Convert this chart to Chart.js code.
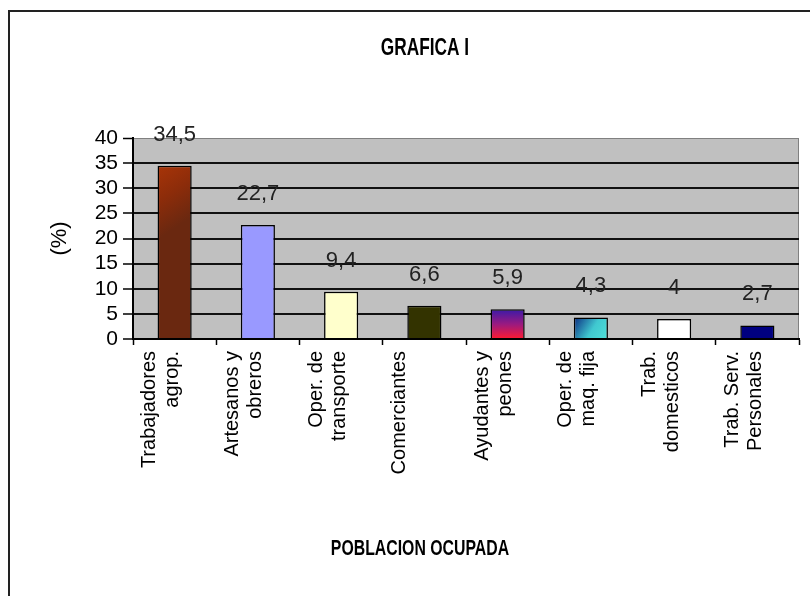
<!DOCTYPE html>
<html lang="es">
<head>
<meta charset="utf-8">
<title>Grafica I</title>
<script src="https://cdn.jsdelivr.net/npm/chart.js@4"></script>
<style>
    html, body {
        margin: 0;
        padding: 0;
        background: #ffffff;
        overflow: hidden;
    }
    .chart-box {
        position: absolute;
        left: 8px;
        top: 10px;
        width: 830px;
        height: 600px;
        border: 2px solid #222222;
    }
</style>
</head>
<body>
<div class="chart-box">
    <canvas id="poblacionChart" width="830" height="600"></canvas>
</div>
<script>
// Categories (each entry is the lines of one axis label)
const categories = [
    ['Trabajadores', 'agrop.'],
    ['Artesanos y', 'obreros'],
    ['Oper. de', 'transporte'],
    ['Comerciantes'],
    ['Ayudantes y', 'peones'],
    ['Oper. de', 'maq. fija'],
    ['Trab.', 'domesticos'],
    ['Trab. Serv.', 'Personales']
];

// Percent of employed population
const values = [34.5, 22.7, 9.4, 6.6, 5.9, 4.3, 4, 2.7];

// Y axis ticks
const yTicks = [0, 5, 10, 15, 20, 25, 30, 35, 40];

const chartTitle = 'GRAFICA I';
const xAxisTitle = 'POBLACION OCUPADA';
const yAxisTitle = '(%)';

const barColors = ['#8a2c0c', '#9999ff', '#ffffcc', '#333300', '#7a1a70', '#40c8c8', '#ffffff', '#000080'];

const FONT = "'Liberation Sans', Arial, sans-serif";

class PoblacionChart {
    constructor() {
        this.chart = null;
        this.createChart();
    }

    // Gradients for the bars that are shaded in the original
    barFill(context) {
        const chart = context.chart;
        const i = context.dataIndex;
        if (!chart.chartArea || !chart.scales.x) return barColors[i];

        const xScale = chart.scales.x;
        const yScale = chart.scales.y;
        const x = xScale.getPixelForValue(i);
        const half = (xScale.width / categories.length) * 0.41 / 2;
        const yTop = yScale.getPixelForValue(values[i]);
        const yBase = yScale.getPixelForValue(0);
        const ctx = chart.ctx;
        let g;

        if (i === 0) {
            g = ctx.createLinearGradient(x - half, yTop, x + half, yTop + 3 * half);
            g.addColorStop(0, '#a83408');
            g.addColorStop(0.5, '#8c2c0a');
            g.addColorStop(1, '#6a2810');
            return g;
        }
        if (i === 4) {
            g = ctx.createLinearGradient(x, yTop, x, yBase);
            g.addColorStop(0, '#3a1aa8');
            g.addColorStop(0.5, '#9a1a80');
            g.addColorStop(1, '#ff1a30');
            return g;
        }
        if (i === 5) {
            g = ctx.createLinearGradient(x - half, yTop, x + half, yBase);
            g.addColorStop(0, '#0a2a80');
            g.addColorStop(0.55, '#40c8d0');
            g.addColorStop(1, '#50e0d8');
            return g;
        }
        return barColors[i];
    }

    createChart() {
        const canvas = document.getElementById('poblacionChart');

        // Gray plot background with its thin gray frame
        const plotBackground = {
            id: 'plotBackground',
            beforeDraw(chart) {
                const { ctx, chartArea: a } = chart;
                ctx.save();
                ctx.fillStyle = '#c0c0c0';
                ctx.fillRect(a.left, a.top, a.width, a.height);
                ctx.strokeStyle = '#808080';
                ctx.lineWidth = 1;
                ctx.strokeRect(a.left + 0.5, a.top + 0.5, a.width - 1, a.height);
                ctx.restore();
            }
        };

        // Value labels over each bar, with a decimal comma
        const valueLabels = {
            id: 'valueLabels',
            afterDatasetsDraw(chart) {
                const ctx = chart.ctx;
                const meta = chart.getDatasetMeta(0);
                ctx.save();
                ctx.font = '22px ' + FONT;
                ctx.fillStyle = '#222222';
                ctx.textAlign = 'center';
                ctx.textBaseline = 'middle';
                meta.data.forEach((bar, i) => {
                    ctx.fillText(String(values[i]).replace('.', ','), bar.x, bar.y - 31);
                });
                ctx.restore();
            }
        };

        // Condensed bold titles (chart title and category axis title)
        const boxTitles = {
            id: 'boxTitles',
            afterDraw(chart) {
                const ctx = chart.ctx;
                const drawNarrow = (text, x, y, size) => {
                    ctx.save();
                    ctx.translate(x, y);
                    ctx.scale(0.72, 1);
                    ctx.font = 'bold ' + size + 'px ' + FONT;
                    ctx.fillStyle = '#000000';
                    ctx.textAlign = 'center';
                    ctx.textBaseline = 'middle';
                    ctx.fillText(text, 0, 0);
                    ctx.restore();
                };
                drawNarrow(chartTitle, chart.width / 2, 36, 24);
                drawNarrow(xAxisTitle, 410, 537, 22);
            }
        };

        this.chart = new Chart(canvas, {
            type: 'bar',
            data: {
                labels: categories,
                datasets: [{
                    data: values,
                    backgroundColor: (c) => this.barFill(c),
                    borderColor: '#000000',
                    borderWidth: 1.5,
                    categoryPercentage: 1,
                    barPercentage: 0.41
                }]
            },
            options: {
                responsive: false,
                animation: false,
                events: [],
                layout: {
                    padding: { left: 0, right: 41, top: 126, bottom: 75 }
                },
                plugins: {
                    legend: { display: false },
                    tooltip: { enabled: false },
                    title: { display: false }
                },
                scales: {
                    x: {
                        afterFit: (scale) => { scale.height = 198; },
                        grid: {
                            offset: true,
                            drawOnChartArea: false,
                            drawTicks: true,
                            tickLength: 6,
                            tickColor: '#000000',
                            tickWidth: 1.5
                        },
                        border: { color: '#000000', width: 2 },
                        ticks: {
                            autoSkip: false,
                            minRotation: 90,
                            maxRotation: 90,
                            labelOffset: -25,
                            padding: 6,
                            color: '#000000',
                            font: { family: FONT, size: 20, lineHeight: 1.15 }
                        }
                    },
                    y: {
                        min: yTicks[0],
                        max: yTicks[yTicks.length - 1],
                        afterFit: (scale) => { scale.width = 123; },
                        afterBuildTicks: (scale) => {
                            scale.ticks = yTicks.map(v => ({ value: v }));
                        },
                        grid: {
                            color: (c) => c.tick && c.tick.value === 40 ? '#808080' : '#111111',
                            lineWidth: (c) => c.tick && c.tick.value === 40 ? 1 : 2,
                            tickColor: '#000000',
                            tickWidth: 1.5,
                            tickLength: 10
                        },
                        border: { color: '#000000', width: 2 },
                        ticks: {
                            autoSkip: false,
                            stepSize: 5,
                            padding: 5,
                            color: '#000000',
                            font: { family: FONT, size: 21, lineHeight: 1 }
                        },
                        title: {
                            display: true,
                            text: yAxisTitle,
                            color: '#000000',
                            font: { family: FONT, size: 22, lineHeight: 1.2 },
                            padding: { top: 36.8, bottom: 0 }
                        }
                    }
                }
            },
            plugins: [plotBackground, valueLabels, boxTitles]
        });
    }
}

document.addEventListener('DOMContentLoaded', () => {
    new PoblacionChart();
});
</script>
</body>
</html>
